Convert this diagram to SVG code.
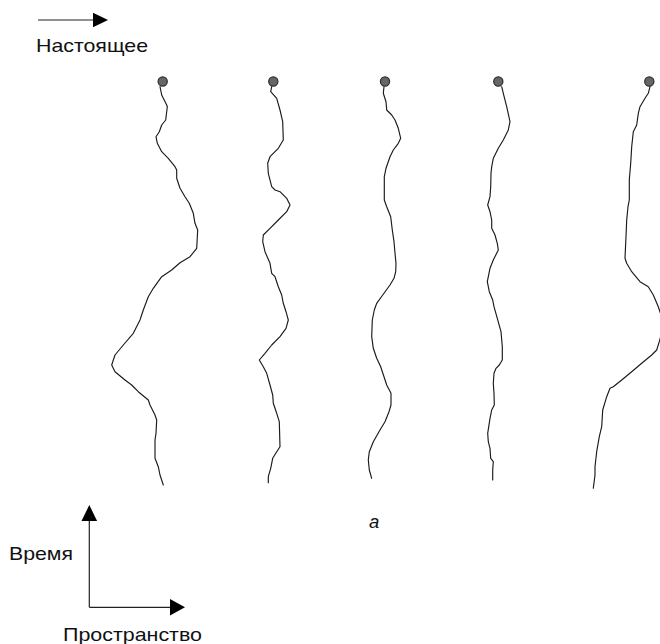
<svg xmlns="http://www.w3.org/2000/svg" width="660" height="644" viewBox="0 0 660 644">
<style>
.wl{fill:none;stroke:#1a1a1a;stroke-width:1.15;stroke-linejoin:round;stroke-linecap:round}
.dot{fill:#666;stroke:#2a2a2a;stroke-width:1.2}
.ax{stroke:#222;stroke-width:1.2;fill:none}
.ah{fill:#000}
.t{font-family:"Liberation Sans",Arial,sans-serif;font-size:18.5px;fill:#111}
</style>
<rect width="660" height="644" fill="#fff"/>
<g id="legend-present">
<line class="ax" x1="38" y1="20" x2="94" y2="20"/>
<polygon class="ah" points="108,20 93,12.7 93,27.3"/>
<text class="t" x="36" y="52" textLength="112" lengthAdjust="spacingAndGlyphs">Настоящее</text>
</g>
<g id="worldlines">
<g id="line1">
<polyline class="wl" points="160,86.7 161.7,95 166.7,105 167.3,106.7 165.7,120 161.7,125 159.3,131.7 156,136.7 157.3,143.3 161.7,151.7 168.3,158.3 175,166.7 176.7,170 176.7,178.3 180,188.3 185,196.7 189.3,203.3 193.3,213.3 195,223.3 197.7,230 196.7,248.3 190,256.7 180,262.7 171.7,270 161.7,276.7 153.3,288.3 148.3,296.7 143.3,310 140,320 133.3,333.3 123.3,345 115,355 111.7,365 115,371.7 125,380 131.7,385 138.3,391.7 148.3,400 150,405 155,415 156.7,420 156,433.3 155,440 155,458.3 158.3,466.7 160,475 163.3,485"/>
<circle class="dot" cx="162.7" cy="81.5" r="4.6"/>
</g>
<g id="line2">
<polyline class="wl" points="271.7,86.7 270.7,91.7 276.7,98.3 280,110 282.7,121.7 283.3,140 278.3,148.3 270,156.7 267.7,163.3 268.3,173.3 271.7,186.7 275,190 280,191.7 286.7,198.3 290,205 286.7,211.7 278.3,220 270,228.3 263.3,235 262.7,241.7 265,251.7 270,263.3 271.7,273.3 275,276.7 278.3,286.7 281.7,295 283.3,303.3 286,311.7 288.3,320 286,328.3 280,336.7 271.7,345 265,353.3 259.3,360 263.3,366.7 266.7,373.3 270,385 272.7,395 273.3,403.3 276.7,413.3 279.3,421.7 280,446.7 276.7,451.7 272.7,458.3 270.7,468.3 268.3,476.7 268.3,482.7"/>
<circle class="dot" cx="273.3" cy="81.5" r="4.6"/>
</g>
<g id="line3">
<polyline class="wl" points="384,86.7 383.3,93.3 386,101.7 386.7,110 391.7,115 395,120 398.3,128.3 400.7,138.3 398.3,143.3 393.3,150 390,156.7 386,168.3 384.3,176.7 384.3,200 386.7,206.7 390.7,216.7 392.3,230 394,241.7 395,253.3 396,263.3 395.7,271.7 394,278.3 390,285 382.7,295 376.7,303.3 374.3,310 372.3,320 371.7,336.7 373.3,348.3 376.7,358.3 380.7,366.7 384,376.7 386.7,385 391,393.3 391,405 389,411.7 385,421.7 380,430 373.3,441.7 369.3,451.7 368.3,460 369.3,470 371.7,478.3"/>
<circle class="dot" cx="385" cy="81.5" r="4.6"/>
</g>
<g id="line4">
<polyline class="wl" points="501.7,86.7 503.3,93.3 506.7,106.7 510,121.7 508.3,130 503.3,140 498.3,148.3 493.3,158.3 491.7,166.7 491,173.3 490.7,186.7 490,196.7 487.7,205 490,211.7 491.7,220 491.7,228.3 495,235 497.3,243.3 498.3,250 493.3,260 490,268.3 487.3,281.7 489.3,291.7 492.7,300 494,306.7 497.3,318.3 501,331.7 502.3,346.7 502.3,360 499.3,365 496,368.3 494,373.3 493.3,383.3 494,393.3 494.3,405 491.7,410 490,418.3 487.7,433.3 488.3,441.7 490,448.3 490.7,458.3 493.3,461.7 492.7,470 492.7,480"/>
<circle class="dot" cx="498.3" cy="81.5" r="4.6"/>
</g>
<g id="line5">
<polyline class="wl" points="650,86.7 648.3,93.3 645,98.3 640,106.7 638.3,113.3 636.7,125 633.3,131.7 631.7,146.7 630.7,163.3 629.3,180 629.3,200 628,206.7 626.7,220 626,236.7 625,258.3 626.7,263.3 631.7,271.7 640,281.7 648.3,286.7 653.3,295 658.3,306.7 662,318 663,328 659.3,341.7 656.7,350 651.7,355 641.7,363.3 631.7,371.7 621.7,380 613.3,386.7 610,388.3 606.7,396.7 602.7,410 601.7,426.7 599.3,436.7 596.7,451.7 595,466.7 595,475 593.3,488.3"/>
<circle class="dot" cx="649.3" cy="81.5" r="4.6"/>
</g>
</g>
<text class="t" x="369" y="528" style="font-style:italic">a</text>
<g id="axes">
<line class="ax" x1="89.3" y1="519" x2="89.3" y2="607.3"/>
<polygon class="ah" points="89.3,505 81.5,521 97.1,521"/>
<line class="ax" x1="89.3" y1="607.3" x2="171" y2="607.3"/>
<polygon class="ah" points="185,607.3 170,599 170,615.6"/>
<text class="t" x="9" y="559.5" textLength="64" lengthAdjust="spacingAndGlyphs">Время</text>
<text class="t" x="63" y="640.5" textLength="139" lengthAdjust="spacingAndGlyphs">Пространство</text>
</g>
</svg>
